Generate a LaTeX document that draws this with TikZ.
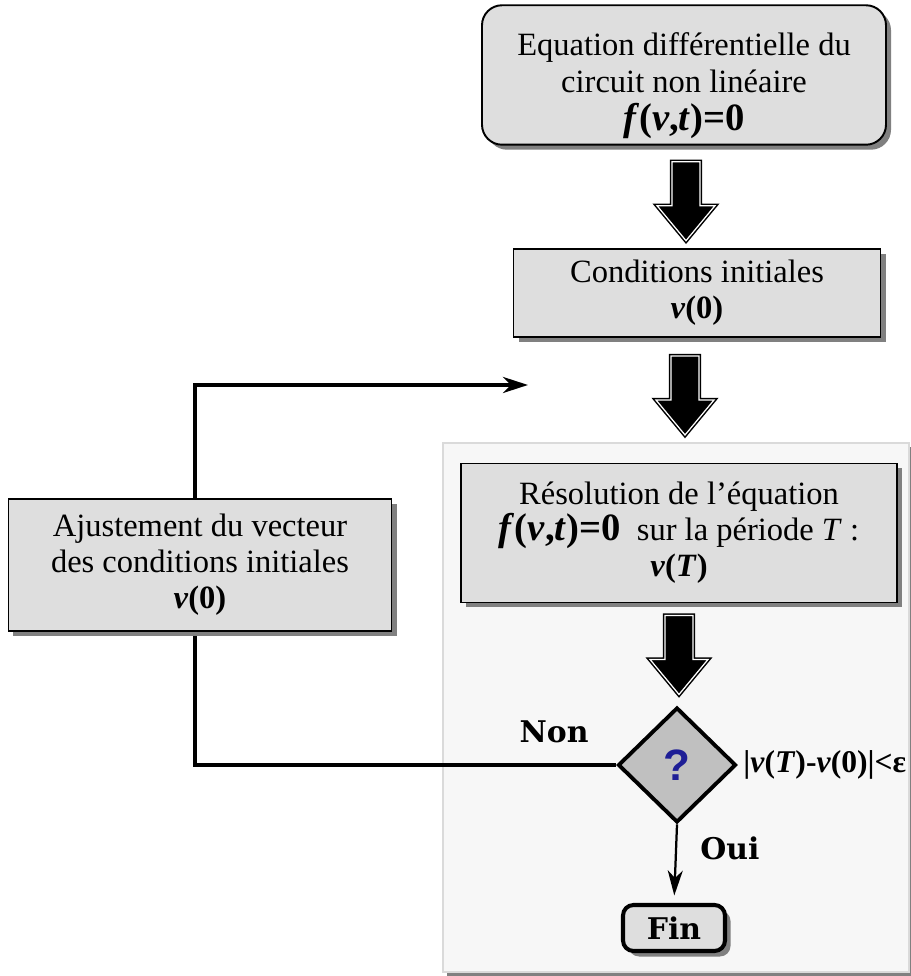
\documentclass[tikz,border=0pt]{standalone}
\usepackage{fontspec}
\setmainfont{Liberation Serif}
\newfontfamily\tagfont{DejaVu Serif}
\newfontfamily\askfont{Liberation Sans}
\usetikzlibrary{arrows.meta,positioning,shapes.geometric,shadows,calc,backgrounds}
\definecolor{boxgray}{RGB}{222,222,222}
\definecolor{diagray}{RGB}{192,192,192}
\definecolor{panelgray}{RGB}{247,247,247}
\definecolor{panelline}{RGB}{218,218,218}
\definecolor{shade}{RGB}{128,128,128}
\definecolor{navy}{RGB}{30,30,150}
\newcommand{\fvt}{{\fontsize{22}{22}\selectfont\textbf{\textit{f}(\textit{v},\textit{t})=0}}}
\newcommand{\vz}{\textbf{\textit{v}(0)}}
\tikzset{
  box/.style={draw=black,line width=1.1pt,fill=boxgray,align=center,
    font=\fontsize{18.5}{20.5}\selectfont,
    drop shadow={shadow xshift=1mm,shadow yshift=-1mm,fill=shade,opacity=1}},
  test/.style={diamond,draw=black,line width=2.2pt,fill=diagray,inner sep=0pt,
    minimum width=23.6mm,minimum height=23mm,text=navy,
    font=\askfont\bfseries\fontsize{25}{25}\selectfont},
  endbox/.style={draw=black,line width=2.3pt,fill=boxgray,rounded corners=6pt,
    minimum width=20.4mm,minimum height=9.2mm,
    font=\tagfont\bfseries\fontsize{17}{20}\selectfont,
    drop shadow={shadow xshift=1.1mm,shadow yshift=-1.1mm,fill=shade,opacity=1}},
  tag/.style={font=\tagfont\bfseries\fontsize{17}{20}\selectfont},
  panel/.style={fill=panelgray,draw=panelline,line width=0.4mm,
    drop shadow={shadow xshift=0.8mm,shadow yshift=-0.8mm,fill=shade,opacity=1}},
  link/.style={line width=0.8mm,-{Stealth[length=5mm,width=3.2mm,inset=1.6mm]}},
  yes/.style={line width=0.45mm,-{Stealth[length=5mm,width=3mm,inset=1.5mm]},shorten >=1.5mm},
  % block arrow, drawn downwards from its top
  pics/bigarrow/.style={code={
    \path[fill=black,draw=white,line width=0.25mm,preaction={draw=black,line width=0.85mm}]
      (-14,0) -- (14,0) -- (14,-44) -- (29,-44) -- (0,-79) -- (-29,-44) -- (-14,-44) -- cycle;
  }},
}
\begin{document}
\begin{tikzpicture}[x=0.2mm,y=0.2mm]
  \useasboundingbox (0,0) rectangle (911,976);
  \node[box,rounded corners=4mm,minimum width=80.8mm,minimum height=26.8mm] (eqn) at (684,901)
    {\rule{0pt}{25pt}Equation différentielle du\\[1pt]circuit non linéaire\\[1pt]\fvt};
  \node[box,minimum width=73.4mm,minimum height=17.6mm] (cond) at (697,683)
    {Conditions initiales\\\vz};
  \node[box,minimum width=87.2mm,minimum height=27.8mm] (res) at (679,443)
    {Résolution de l’équation\\\fvt\ \ sur la période \textit{T} :\\\textbf{\textit{v}(\textit{T})}};
  \node[box,minimum width=76.6mm,minimum height=26.4mm] (adj) at (200,411)
    {Ajustement du vecteur\\des conditions initiales\\\vz};
  \node[test] (q) at (677,211) {?};
  \node[endbox] (fin) at (674,48) {Fin};
  \node[font=\fontsize{18}{20}\selectfont,inner sep=0pt,right=1mm of q.east,anchor=west] (crit)
    {\textbf{|\textit{v}(\textit{T})-\textit{v}(0)|<ε}};
  \node[tag] (non) at (554,244) {Non};
  \node[tag] (oui) at (730,128) {Oui};
  \coordinate (bend) at (195,591);
  \coordinate (ret) at (528,591);

  \begin{scope}[on background layer]
    \draw[panel] (443,4) rectangle (909,533);
    \draw[link] (q.west) -| (bend) -- (ret);
  \end{scope}

  \pic at ($(eqn.south)+(2,-16)$) {bigarrow};
  \pic at (685,620) {bigarrow};
  \pic at ($(res.south)+(0,-12)$) {bigarrow};
  \draw[yes] (q.south) -- (fin.north);
\end{tikzpicture}
\end{document}
